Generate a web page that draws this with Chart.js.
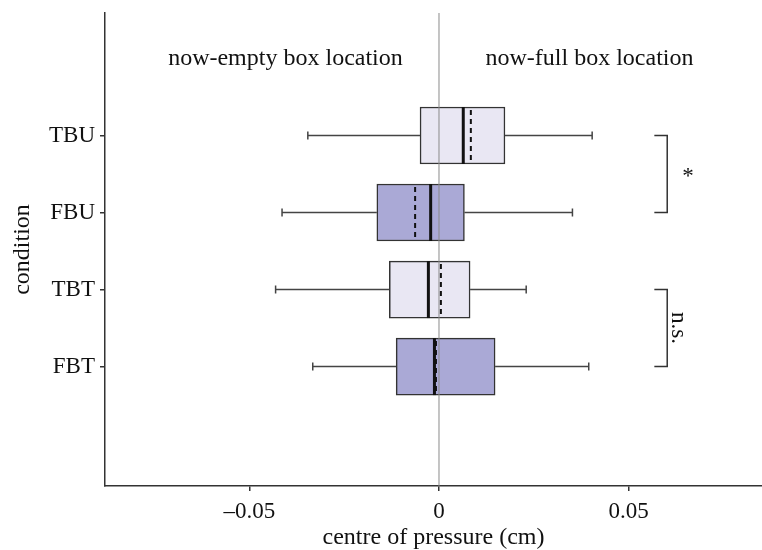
<!DOCTYPE html>
<html>
<head>
<meta charset="utf-8">
<script src="https://cdn.jsdelivr.net/npm/chart.js@4.4.1/dist/chart.umd.min.js"></script>
<style>
  body { margin: 0; background: #fff; }
  #wrap { width: 762px; height: 550px; }
</style>
</head>
<body>
<div id="wrap"><canvas id="boxChart" width="762" height="550"></canvas></div>
<script>
// values (cm)
const conditions = ['TBU', 'FBU', 'TBT', 'FBT'];
const rowPos = [1, 2, 3, 4];
const whiskerLow = [-0.0346, -0.0414, -0.0431, -0.0333];
const q1 = [-0.0050, -0.0164, -0.0131, -0.0113];
const medians = [0.0064, -0.0022, -0.0028, -0.0012];
const means = [0.0084, -0.0063, 0.0005, -0.0008];
const q3 = [0.0174, 0.0067, 0.0082, 0.0148];
const whiskerHigh = [0.0404, 0.0352, 0.0230, 0.0395];
const xTicks = [-0.05, 0, 0.05];

const serif = '"Liberation Serif", "Times New Roman", serif';
const ink = '#333';

// extra drawing: zero line, whiskers, medians, means, brackets and notes
const boxExtras = {
    id: 'boxExtras',
    afterDatasetsDraw(chart) {
        const ctx = chart.ctx;
        const x = chart.scales.x;
        const y = chart.scales.y;
        const area = chart.chartArea;
        const half = 28.5;

        ctx.save();
        // zero reference line
        ctx.strokeStyle = '#8a8a8a';
        ctx.lineWidth = 1;
        ctx.beginPath();
        ctx.moveTo(x.getPixelForValue(0), area.top);
        ctx.lineTo(x.getPixelForValue(0), area.bottom);
        ctx.stroke();

        rowPos.forEach((pos, i) => {
            const py = y.getPixelForValue(pos);
            // whiskers
            ctx.strokeStyle = '#444';
            ctx.lineWidth = 1.5;
            ctx.setLineDash([]);
            ctx.beginPath();
            ctx.moveTo(x.getPixelForValue(whiskerLow[i]), py);
            ctx.lineTo(x.getPixelForValue(q1[i]), py);
            ctx.moveTo(x.getPixelForValue(q3[i]), py);
            ctx.lineTo(x.getPixelForValue(whiskerHigh[i]), py);
            ctx.moveTo(x.getPixelForValue(whiskerLow[i]), py - 4);
            ctx.lineTo(x.getPixelForValue(whiskerLow[i]), py + 4);
            ctx.moveTo(x.getPixelForValue(whiskerHigh[i]), py - 4);
            ctx.lineTo(x.getPixelForValue(whiskerHigh[i]), py + 4);
            ctx.stroke();

            // mean (dashed)
            ctx.strokeStyle = '#111';
            ctx.lineWidth = 2;
            ctx.setLineDash([5, 4]);
            ctx.beginPath();
            ctx.moveTo(x.getPixelForValue(means[i]), py - half + 3);
            ctx.lineTo(x.getPixelForValue(means[i]), py + half - 1);
            ctx.stroke();

            // median (solid)
            ctx.setLineDash([]);
            ctx.lineWidth = 3;
            ctx.beginPath();
            ctx.moveTo(x.getPixelForValue(medians[i]), py - half);
            ctx.lineTo(x.getPixelForValue(medians[i]), py + half);
            ctx.stroke();
        });

        // significance brackets
        const brackets = [[1, 2, '*'], [3, 4, 'n.s.']];
        const bx0 = x.getPixelForValue(0.0568);
        const bx1 = x.getPixelForValue(0.0602);
        ctx.strokeStyle = ink;
        ctx.lineWidth = 1.5;
        ctx.fillStyle = '#111';
        brackets.forEach(([a, b, label]) => {
            const ya = y.getPixelForValue(a);
            const yb = y.getPixelForValue(b);
            ctx.beginPath();
            ctx.moveTo(bx0, ya);
            ctx.lineTo(bx1, ya);
            ctx.lineTo(bx1, yb);
            ctx.lineTo(bx0, yb);
            ctx.stroke();
            const ym = (ya + yb) / 2;
            ctx.textAlign = 'center';
            ctx.textBaseline = 'middle';
            ctx.font = '23px ' + serif;
            if (label === '*') {
                ctx.fillText(label, x.getPixelForValue(0.0657), ym + 3);
            } else {
                ctx.save();
                ctx.translate(x.getPixelForValue(0.0630), ym);
                ctx.rotate(Math.PI / 2);
                ctx.fillText(label, 0, 0);
                ctx.restore();
            }
        });

        // location notes at top
        ctx.font = '24px ' + serif;
        ctx.textAlign = 'center';
        ctx.textBaseline = 'middle';
        ctx.fillText('now-empty box location', x.getPixelForValue(-0.0405), y.getPixelForValue(0));
        ctx.fillText('now-full box location', x.getPixelForValue(0.0397), y.getPixelForValue(0));
        ctx.restore();
    }
};

const ctx = document.getElementById('boxChart').getContext('2d');
const boxChart = new Chart(ctx, {
    type: 'bar',
    data: {
        datasets: [{
            label: 'IQR',
            data: rowPos.map((pos, i) => ({ x: [q1[i], q3[i]], y: pos })),
            backgroundColor: ['#e9e7f3', '#aaa9d6', '#e9e7f3', '#aaa9d6'],
            borderColor: ink,
            borderWidth: 1.5,
            borderSkipped: false,
            barThickness: 57
        }]
    },
    plugins: [boxExtras],
    options: {
        indexAxis: 'y',
        responsive: false,
        animation: false,
        layout: { padding: { left: 0, right: 0, top: 13, bottom: 0 } },
        plugins: {
            legend: { display: false },
            tooltip: { enabled: false }
        },
        scales: {
            x: {
                type: 'linear',
                min: -0.0881,
                max: 0.0852,
                afterBuildTicks: scale => {
                    scale.ticks = xTicks.map(v => ({ value: v }));
                },
                afterFit: scale => { scale.height = 64; },
                ticks: {
                    color: '#111',
                    font: { family: serif, size: 23 },
                    padding: 7,
                    maxRotation: 0,
                    callback: v => v === 0 ? '0' : (v < 0 ? '\u2013' + Math.abs(v) : String(v))
                },
                grid: { drawOnChartArea: false, tickLength: 5, color: ink, lineWidth: 1.5 },
                border: { color: ink, width: 1.5 },
                title: {
                    display: true,
                    text: 'centre of pressure (cm)',
                    color: '#111',
                    font: { family: serif, size: 24, lineHeight: 1 },
                    padding: { top: 0, bottom: 0 }
                }
            },
            y: {
                type: 'linear',
                reverse: true,
                offset: false,
                min: -0.59,
                max: 5.55,
                afterBuildTicks: scale => {
                    scale.ticks = rowPos.map(v => ({ value: v }));
                },
                afterFit: scale => {
                    scale.width = 105;
                    scale.paddingTop = 0;
                    scale.paddingBottom = 0;
                },
                ticks: {
                    color: '#111',
                    font: { family: serif, size: 23, lineHeight: 1 },
                    padding: 5,
                    callback: v => conditions[v - 1]
                },
                grid: { drawOnChartArea: false, offset: false, tickLength: 5, color: ink, lineWidth: 1.5 },
                border: { color: ink, width: 1.5 },
                title: {
                    display: true,
                    text: 'condition',
                    color: '#111',
                    font: { family: serif, size: 24 },
                    padding: { top: 8, bottom: 0 }
                }
            }
        }
    }
});
</script>
</body>
</html>
